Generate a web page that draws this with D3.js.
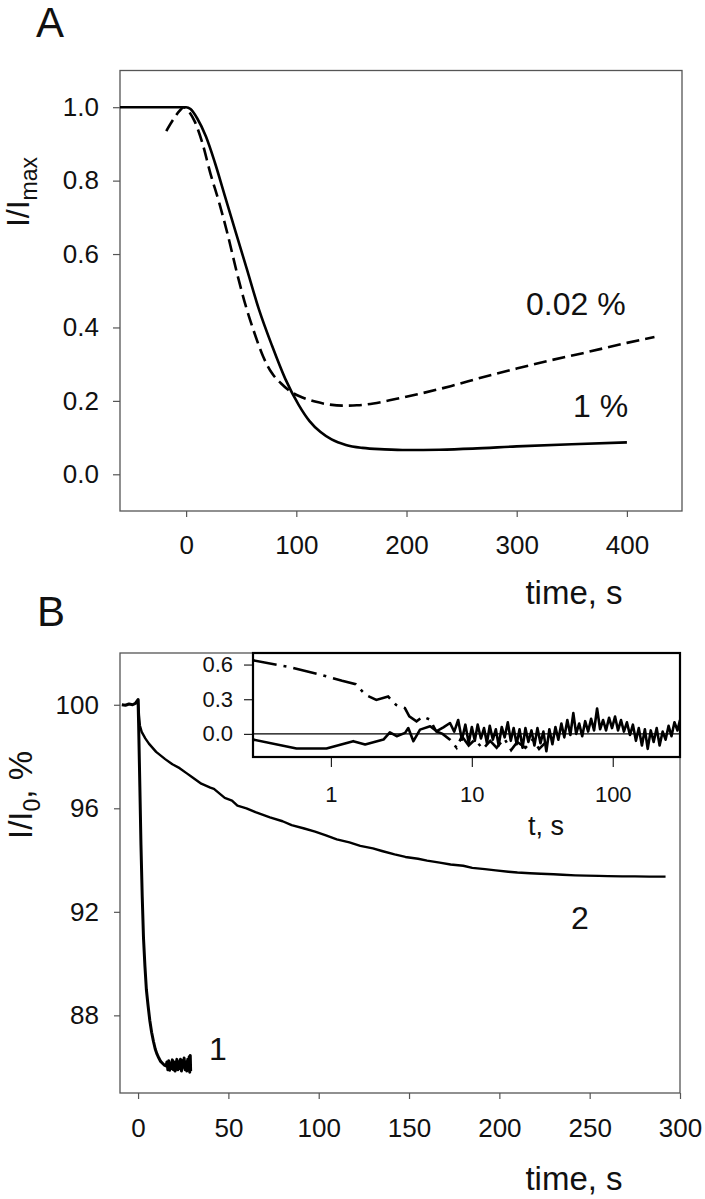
<!DOCTYPE html>
<html><head><meta charset="utf-8">
<script src="https://cdn.jsdelivr.net/npm/d3@7"></script>
<style>
html,body{margin:0;padding:0;background:#fff;}
text{font-family:"Liberation Sans",Arial,sans-serif;fill:#111;}
</style></head>
<body>
<svg id="c" width="705" height="1199"></svg>
<script>
// ---------- Panel A data ----------
const tA_solid = [-60,-30,-10,0,4,10,18,26,35,45,55,66,78,90,102,112,122,132,145,160,180,200,230,260,300,350,400];
const vA_solid = [1.0,1.0,1.0,1.0,0.995,0.97,0.92,0.85,0.76,0.66,0.56,0.45,0.35,0.26,0.19,0.145,0.115,0.095,0.08,0.072,0.068,0.066,0.067,0.07,0.076,0.082,0.087];
const tA_dash = [-18,-12,-6,-2,2,8,15,22,30,38,46,54,62,70,78,86,95,105,117,130,142,155,170,190,210,240,270,300,330,360,400,425];
const vA_dash = [0.935,0.965,0.99,1.0,0.99,0.96,0.9,0.82,0.74,0.65,0.55,0.46,0.385,0.32,0.275,0.248,0.225,0.21,0.198,0.19,0.187,0.188,0.193,0.205,0.218,0.24,0.265,0.288,0.31,0.33,0.358,0.374];
const ticksAx = [0,100,200,300,400];
const ticksAy = [0.0,0.2,0.4,0.6,0.8,1.0];

// ---------- Panel B data ----------
const tB1 = [-9,-7,-5,-3,-1.5,-0.5,0,0.3,1,1.6,2.3,3,3.8,4.6,5.5,6.5,7.5,8.5,9.5,10.5,11.5,12.5,13.5,14.5,15.5,16,16.5,17,17.5,18,18.5,19,19.5,20,20.5,21,21.5,22,22.5,23,23.5,24,24.5,25,25.5,26,26.5,27,27.5,28,28.3,28.6,28.9,29.1];
const vB1 = [100,99.98,100.03,100.0,100.05,100.15,100.2,99.3,96.8,94.6,92.6,91.0,89.9,89.0,88.4,87.8,87.35,87.0,86.7,86.5,86.35,86.22,86.15,86.08,86.05,86.2,85.9,86.25,85.88,86.15,85.95,86.28,85.9,86.2,85.85,86.1,86.3,85.9,86.2,85.95,86.3,85.85,86.25,86.0,86.35,85.9,86.2,85.85,86.3,85.95,86.4,85.8,86.45,85.85];
const tB2 = [0,0.5,1,2,4,6,10,15,19,23,27,30,35,40,42,48,52,55,60,65,73,80,85,92,98,104,110,117,123,130,135,142,148,155,160,167,173,180,185,192,198,205,210,217,223,230,235,242,248,255,260,268,275,283,292];
const vB2 = [100.2,99.6,99.2,98.95,98.7,98.5,98.18,97.9,97.7,97.55,97.35,97.2,96.95,96.8,96.75,96.4,96.3,96.1,96.0,95.85,95.65,95.5,95.35,95.22,95.1,94.95,94.8,94.68,94.55,94.45,94.35,94.22,94.12,94.05,93.98,93.9,93.83,93.78,93.7,93.65,93.6,93.55,93.52,93.49,93.47,93.45,93.43,93.41,93.4,93.39,93.38,93.37,93.37,93.36,93.36];
const ticksBx = [0,50,100,150,200,250,300];
const ticksBy = [88,92,96,100];

// ---------- Inset data ----------
const tI_dd = [0.28,0.5,0.8,1.2,1.5,1.75,2.1,2.55,2.9,3.35,3.6,4.05,4.5,5.05,5.6,6.2,7,7.8,8.5,9.5,10.5,12,13.5,15,17,19,21,24,27,30,33];
const vI_dd = [0.637,0.58,0.52,0.46,0.43,0.34,0.294,0.323,0.251,0.223,0.151,0.109,0.15,0.123,0.02,0.0,-0.05,-0.12,-0.02,-0.1,-0.05,-0.13,-0.06,-0.12,-0.04,-0.14,-0.07,-0.12,-0.05,-0.13,-0.08];
const tI_s = [0.28,0.57,0.93,1.44,1.75,2.36,2.62,2.93,3.36,3.54,3.85,4.29,5.06,5.63,6.28,7.0,7.5,8,8.5,9,9.5,
  10,10.5,11,11.6,12.2,12.8,13.4,14.1,14.8,15.5,16.3,17.1,18,18.9,19.8,20.8,21.8,22.9,24,25.2,26.5,27.8,29.2,30.7,32.2,33.8,35.5,37.3,39.2,41.1,43.2,45.3,47.6,50,52.5,55,57.8,60.7,63.7,66.9,70.2,73.7,77.4,81.3,85.4,89.6,94.1,98.8,103.8,109,114.4,120,126,132.4,139,146,153,161,169,177,186,195,205,215,226,237,249,261,274,288,300];
const vI_s = [-0.049,-0.126,-0.126,-0.063,-0.091,-0.049,0.014,-0.02,0.009,0.051,-0.063,0.037,0.066,0.023,0.057,0.094,0.02,0.12,-0.05,0.08,-0.08,
  0.06,-0.06,0.08,-0.04,0.05,-0.08,0.07,-0.05,0.04,-0.1,0.06,-0.03,0.1,-0.06,0.05,-0.09,0.04,-0.12,0.05,-0.07,0.03,-0.1,0.05,-0.08,0.02,-0.15,0.04,-0.09,0.06,-0.05,0.09,-0.03,0.12,-0.01,0.18,0.0,0.09,-0.02,0.11,0.02,0.13,0.03,0.22,0.04,0.12,0.03,0.14,0.05,0.15,0.03,0.12,0.02,0.1,-0.01,0.08,-0.06,0.05,-0.1,0.04,-0.13,0.03,-0.07,0.05,-0.1,0.02,-0.05,0.07,-0.02,0.1,0.03,0.12];
const ticksIx = [1,10,100];
const ticksIy = [0.0,0.3,0.6];

const svg = d3.select("#c");
const FONT = '"Liberation Sans",Arial,sans-serif';
const zip = (a,b)=>a.map((d,i)=>[d,b[i]]);

function styleAxis(g, col){
  g.select(".domain").remove();
  g.selectAll(".tick line").attr("stroke",col).attr("stroke-width",1.2);
  g.selectAll(".tick text").attr("fill","#111").style("font-family",FONT);
}

// ================= Panel A =================
const xA = d3.scaleLinear([-60,450],[120,682]);
const yA = d3.scaleLinear([-0.1,1.1],[511,70.5]);

svg.append("text").attr("x",36).attr("y",37).attr("font-size",42).text("A");

svg.append("g").attr("transform","translate(0,511)")
  .call(d3.axisBottom(xA).tickValues(ticksAx).tickFormat(d3.format("d")).tickSize(6).tickPadding(19))
  .call(g=>{styleAxis(g,"#555"); g.selectAll("text").attr("font-size",26);});
svg.append("g").attr("transform","translate(120,0)")
  .call(d3.axisLeft(yA).tickValues(ticksAy).tickFormat(d3.format(".1f")).tickSize(7).tickPadding(14))
  .call(g=>{styleAxis(g,"#555"); g.selectAll("text").attr("font-size",26);});

svg.append("rect").attr("x",xA.range()[0]).attr("y",yA.range()[1])
  .attr("width",xA.range()[1]-xA.range()[0]).attr("height",yA.range()[0]-yA.range()[1])
  .attr("fill","none").attr("stroke","#555").attr("stroke-width",1.3);

const lineA = d3.line().x(d=>xA(d[0])).y(d=>yA(d[1])).curve(d3.curveMonotoneX);
svg.append("path").datum(zip(tA_dash,vA_dash)).attr("d",lineA)
  .attr("fill","none").attr("stroke","#000").attr("stroke-width",2.6).attr("stroke-dasharray","13,6");
svg.append("path").datum(zip(tA_solid,vA_solid)).attr("d",lineA)
  .attr("fill","none").attr("stroke","#000").attr("stroke-width",2.6);

svg.append("text").attr("x",526).attr("y",315).attr("font-size",32).text("0.02 %");
svg.append("text").attr("x",573).attr("y",417).attr("font-size",32).text("1 %");
svg.append("text").attr("x",574).attr("y",604).attr("font-size",33).attr("text-anchor","middle").text("time, s");

const yla = svg.append("text").attr("transform","translate(29,192) rotate(-90)")
  .attr("text-anchor","middle").attr("font-size",32);
yla.append("tspan").text("I/I");
yla.append("tspan").attr("font-size",23).attr("dy",8).text("max");

// ================= Panel B =================
const xB = d3.scaleLinear([-10,300],[120,680]);
const yB = d3.scaleLinear([85,102],[1093,653]);

svg.append("text").attr("x",37).attr("y",626).attr("font-size",42).text("B");

svg.append("g").attr("transform","translate(0,1093)")
  .call(d3.axisBottom(xB).tickValues(ticksBx).tickFormat(d3.format("d")).tickSize(6).tickPadding(20))
  .call(g=>{styleAxis(g,"#555"); g.selectAll("text").attr("font-size",26);});
svg.append("g").attr("transform","translate(120,0)")
  .call(d3.axisLeft(yB).tickValues(ticksBy).tickFormat(d3.format("d")).tickSize(6).tickPadding(15))
  .call(g=>{styleAxis(g,"#555"); g.selectAll("text").attr("font-size",26);});

svg.append("rect").attr("x",xB.range()[0]).attr("y",yB.range()[1])
  .attr("width",xB.range()[1]-xB.range()[0]).attr("height",yB.range()[0]-yB.range()[1])
  .attr("fill","none").attr("stroke","#555").attr("stroke-width",1.3);

const lineB = d3.line().x(d=>xB(d[0])).y(d=>yB(d[1]));
svg.append("path").datum(zip(tB2,vB2)).attr("d",lineB)
  .attr("fill","none").attr("stroke","#000").attr("stroke-width",2.4).attr("stroke-linejoin","round");
svg.append("path").datum(zip(tB1,vB1)).attr("d",lineB)
  .attr("fill","none").attr("stroke","#000").attr("stroke-width",3).attr("stroke-linejoin","round");

svg.append("text").attr("x",209).attr("y",1060).attr("font-size",32).text("1");
svg.append("text").attr("x",571).attr("y",929).attr("font-size",32).text("2");
svg.append("text").attr("x",574).attr("y",1190).attr("font-size",33).attr("text-anchor","middle").text("time, s");

const ylb = svg.append("text").attr("transform","translate(32,795) rotate(-90)")
  .attr("text-anchor","middle").attr("font-size",33);
ylb.append("tspan").text("I/I");
ylb.append("tspan").attr("font-size",23).attr("dy",8).text("0");
ylb.append("tspan").attr("dy",-8).text(", %");

// ================= Inset =================
const xI = d3.scaleLog([0.28,300],[253,680]);
const yI = d3.scaleLinear([-0.2,0.7],[757,653]);

svg.append("rect").attr("x",253).attr("y",653).attr("width",427).attr("height",104).attr("fill","#fff");
svg.append("defs").append("clipPath").attr("id","ic").append("rect")
  .attr("x",253).attr("y",653).attr("width",427).attr("height",104);

svg.append("g").attr("transform","translate(0,757)")
  .call(d3.axisBottom(xI).tickValues(ticksIx).tickFormat(d3.format("d")).tickSize(10).tickPadding(19))
  .call(g=>{styleAxis(g,"#222"); g.selectAll("text").attr("font-size",22);});
svg.append("g").attr("transform","translate(253,0)")
  .call(d3.axisLeft(yI).tickValues(ticksIy).tickFormat(d3.format(".1f")).tickSize(9).tickPadding(11))
  .call(g=>{styleAxis(g,"#222"); g.selectAll("text").attr("font-size",22);});

const gi = svg.append("g").attr("clip-path","url(#ic)");
gi.append("line").attr("x1",253).attr("x2",680).attr("y1",yI(0)).attr("y2",yI(0))
  .attr("stroke","#000").attr("stroke-width",1.2);
const lineI = d3.line().x(d=>xI(d[0])).y(d=>yI(d[1]));
gi.append("path").datum(zip(tI_dd,vI_dd)).attr("d",lineI)
  .attr("fill","none").attr("stroke","#000").attr("stroke-width",2.6).attr("stroke-dasharray","24,7,3,7");
gi.append("path").datum(zip(tI_s,vI_s)).attr("d",lineI)
  .attr("fill","none").attr("stroke","#000").attr("stroke-width",2.6).attr("stroke-linejoin","round");

svg.append("rect").attr("x",253).attr("y",653).attr("width",427).attr("height",104)
  .attr("fill","none").attr("stroke","#000").attr("stroke-width",2.2);

svg.append("text").attr("x",546).attr("y",835).attr("font-size",27).attr("text-anchor","middle").text("t, s");
</script>
</body></html>
